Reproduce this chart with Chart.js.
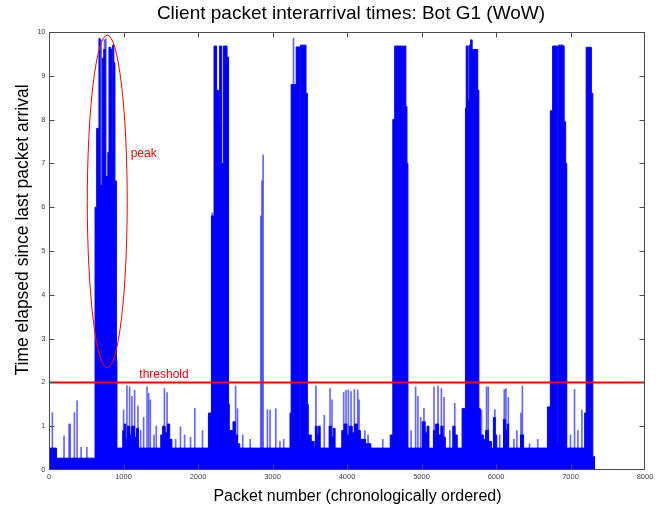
<!DOCTYPE html>
<html>
<head>
<meta charset="utf-8">
<script src="https://cdn.jsdelivr.net/npm/chart.js@4/dist/chart.umd.min.js"></script>
<style>
  html, body { margin: 0; padding: 0; background: #ffffff; }
  #wrap { width: 671px; height: 505px; }
</style>
</head>
<body>
<div id="wrap"><canvas id="c" width="671" height="505"></canvas></div>
<script>
// ---------- data ----------
const titleText = 'Client packet interarrival times: Bot G1 (WoW)';
const xAxisTitle = 'Packet number (chronologically ordered)';
const yAxisTitle = 'Time elapsed since last packet arrival';

const xTickValues = [0, 1000, 2000, 3000, 4000, 5000, 6000, 7000, 8000];
const yTickValues = [0, 1, 2, 3, 4, 5, 6, 7, 8, 9, 10];

// dense part of the trace: upper envelope, each value holds until the next packet number
const coreX = [0, 100, 618, 640, 672, 685, 715, 735, 755, 790, 805, 830, 845, 855, 870, 885, 905, 912,
  990, 1010, 1030, 1050, 1085, 1110, 1150, 1175, 1200,
  1500, 1525, 1560, 1590, 1620, 1650,
  2140, 2180, 2215, 2250, 2275, 2290, 2318, 2340, 2390, 2410, 2420, 2470, 2500, 2530, 2560,
  3235, 3250, 3318, 3362, 3374, 3450, 3468, 3480, 3520, 3560, 3575, 3600, 3620, 3640,
  3760, 3790, 3815, 3840, 3930, 3960, 4000, 4030, 4070, 4100, 4140, 4180, 4250, 4320,
  4580, 4615, 4640, 4745, 4758, 4790, 4805, 4818, 5010, 5050, 5075, 5100,
  5160, 5190, 5230, 5260, 5290, 5320, 5420, 5450, 5480, 5545, 5590,
  5600, 5625, 5640, 5660, 5680, 5755, 5770, 5790, 5830, 5860, 5900, 5940, 5965, 5990, 6010,
  6100, 6130, 6150, 6170, 6330, 6370, 6690,
  6730, 6760, 6824, 6838, 6900, 6915, 6935, 6950, 7190, 7210, 7280, 7300, 7330];
const coreY = [0.5, 0.27, 6.0, 7.8, 9.85, 6.5, 9.4, 9.6, 6.7, 7.25, 9.65, 9.6, 7.25, 9.7, 9.3, 6.6, 2.5, 0.5,
  0.9, 1.05, 0.7, 1.0, 0.8, 1.0, 0.75, 0.95, 0.5,
  0.8, 1.0, 0.85, 1.05, 0.7, 0.5,
  1.3, 5.8, 9.68, 8.67, 7.9, 9.68, 7.0, 9.68, 9.43, 1.5, 0.9, 1.1, 0.8, 0.6, 0.5,
  1.3, 8.8, 9.66, 0.7, 9.7, 8.6, 1.5, 0.8, 0.65, 0.5, 1.0, 0.8, 1.0, 0.5,
  1.0, 0.75, 0.95, 0.5, 0.9, 1.05, 0.8, 1.0, 0.85, 1.05, 0.9, 0.7, 0.6, 0.5,
  0.8, 8.0, 9.68, 0.7, 9.68, 8.3, 7.0, 0.5, 1.1, 0.85, 1.0, 0.5,
  0.9, 1.05, 0.8, 1.0, 0.75, 0.5, 1.0, 0.8, 0.5, 1.4, 8.26,
  9.68, 8.45, 9.7, 9.82, 9.6, 8.67, 1.4, 0.8, 0.7, 0.9, 0.65, 0.5, 1.2, 0.8, 0.5,
  1.15, 0.9, 1.05, 0.5, 0.8, 0.5, 1.44,
  8.2, 9.68, 0.6, 9.7, 9.68, 7.95, 7.0, 0.5, 1.3, 9.65, 8.6, 0.3, 0.3];

// isolated strands of the trace
const spikeX = [45, 202, 270, 285, 341, 377, 431, 508, 678, 700, 745, 763, 1001, 1046, 1082, 1113, 1149, 1194,
  1230, 1270, 1316, 1338, 1360, 1410, 1440, 1549, 1585, 1700, 1765, 1820, 1900, 1957, 2060, 2191,
  2505, 2530, 2600, 2700, 2842, 2858, 2874, 2932, 2968, 3044, 3100, 3150,
  3282, 3583, 3628, 3695, 3772, 3799, 3956, 3987, 4018, 4054, 4099, 4144, 4162, 4240, 4283, 4480,
  4860, 4921, 4952, 4990, 5033, 5168, 5222, 5267, 5303, 5380, 5446, 5806, 5873, 5896, 5985, 6050,
  6111, 6133, 6165, 6240, 6280, 6335, 6354, 6450, 6560, 7000, 7054, 7100, 7153];
const spikeY = [1.31, 0.78, 1.05, 1.05, 1.31, 1.58, 0.52, 0.52, 9.85, 9.82, 9.82, 9.85, 1.37, 1.92, 1.9, 1.68, 1.82, 1.46,
  0.9, 1.2, 1.9, 1.75, 1.6, 0.8, 1.0, 1.86, 1.77, 0.7, 0.99, 0.8, 0.75, 1.41, 0.9, 5.87,
  1.92, 1.4, 0.8, 0.7, 5.8, 6.6, 7.19, 1.38, 1.37, 1.4, 0.65, 0.7,
  9.86, 1.92, 1.0, 1.25, 1.86, 1.6, 1.77, 1.82, 1.83, 1.79, 1.84, 1.83, 1.6, 0.9, 0.8, 0.7,
  0.9, 1.9, 1.68, 1.2, 1.41, 1.9, 1.92, 1.86, 1.66, 0.9, 1.52, 1.37, 1.9, 1.9, 1.38, 0.8,
  1.84, 1.86, 1.66, 0.7, 0.9, 1.3, 1.92, 0.6, 0.7, 0.8, 1.84, 0.9, 1.37];

const thresholdValue = 2;

// red annotations
const ellipseCenter = [782, 6.13];
const ellipseRadii = [268, 3.8];
const noteTexts = ['peak', 'threshold'];
const noteX = [1096, 1212];
const noteY = [7.15, 2.11];

// ---------- chart ----------
const FONT = "'Liberation Sans', Arial, Helvetica, sans-serif";
const BLUE = '#0000ff';
const RED = '#ff0000';
const AXIS = '#4a4a4a';

const matlabPlugin = {
  id: 'matlabLook',
  afterDatasetsDraw(chart) {
    const ctx = chart.ctx;
    const xs = chart.scales.x, ys = chart.scales.y;
    ctx.save();
    const cx = xs.getPixelForValue(ellipseCenter[0]);
    const cy = ys.getPixelForValue(ellipseCenter[1]);
    const rx = Math.abs(xs.getPixelForValue(ellipseCenter[0] + ellipseRadii[0]) - cx);
    const ry = Math.abs(ys.getPixelForValue(ellipseCenter[1] + ellipseRadii[1]) - cy);
    ctx.strokeStyle = RED;
    ctx.lineWidth = 1;
    ctx.beginPath();
    ctx.ellipse(cx, cy, rx, ry, 0, 0, Math.PI * 2);
    ctx.stroke();
    ctx.fillStyle = RED;
    ctx.font = '12px ' + FONT;
    ctx.textAlign = 'left';
    ctx.textBaseline = 'alphabetic';
    noteTexts.forEach((t, i) => {
      ctx.fillText(t, xs.getPixelForValue(noteX[i]), ys.getPixelForValue(noteY[i]));
    });
    ctx.restore();
  },
  afterDraw(chart) {
    const ctx = chart.ctx;
    const a = chart.chartArea;
    const xs = chart.scales.x, ys = chart.scales.y;
    ctx.save();
    ctx.strokeStyle = AXIS;
    ctx.lineWidth = 1;
    const L = Math.round(a.left) + 0.5, R = Math.round(a.right) - 0.5;
    const T = Math.round(a.top) + 0.5, B = Math.round(a.bottom) - 0.5;
    const clamp = (v, lo, hi) => Math.min(Math.max(v, lo), hi);
    ctx.beginPath();
    ctx.rect(L, T, R - L, B - T);
    const tl = 5;
    xTickValues.forEach(v => {
      const p = clamp(Math.round(xs.getPixelForValue(v)) + 0.5, L, R);
      ctx.moveTo(p, B); ctx.lineTo(p, B - tl);
      ctx.moveTo(p, T); ctx.lineTo(p, T + tl);
    });
    yTickValues.forEach(v => {
      const p = clamp(Math.round(ys.getPixelForValue(v)) + 0.5, T, B);
      ctx.moveTo(L, p); ctx.lineTo(L + tl, p);
      ctx.moveTo(R, p); ctx.lineTo(R - tl, p);
    });
    ctx.stroke();
    ctx.fillStyle = '#000000';
    ctx.textAlign = 'center';
    ctx.textBaseline = 'alphabetic';
    ctx.font = '19px ' + FONT;
    ctx.fillText(titleText, 351, 18.5);
    ctx.font = '16px ' + FONT;
    ctx.fillText(xAxisTitle, 357.5, 501);
    ctx.save();
    ctx.translate(28, 230);
    ctx.rotate(-Math.PI / 2);
    ctx.font = '17.5px ' + FONT;
    ctx.fillText(yAxisTitle, 0, 0);
    ctx.restore();
    ctx.restore();
  }
};

new Chart(document.getElementById('c'), {
  type: 'line',
  data: {
    datasets: [
      {
        type: 'line',
        label: 'threshold',
        data: [{ x: xTickValues[0], y: thresholdValue }, { x: xTickValues[xTickValues.length - 1], y: thresholdValue }],
        borderColor: RED,
        borderWidth: 2,
        pointRadius: 0,
        fill: false,
        order: 0
      },
      {
        type: 'bar',
        label: 'strands',
        data: spikeX.map((x, i) => ({ x: x, y: spikeY[i] })),
        backgroundColor: 'rgba(0,0,255,0.6)',
        borderWidth: 0,
        barThickness: 1,
        grouped: false,
        order: 1
      },
      {
        type: 'line',
        label: 'interarrival',
        data: coreX.map((x, i) => ({ x: x, y: coreY[i] })),
        stepped: 'before',
        borderColor: BLUE,
        backgroundColor: BLUE,
        borderWidth: 1,
        pointRadius: 0,
        fill: 'origin',
        order: 2
      }
    ]
  },
  options: {
    responsive: false,
    animation: false,
    events: [],
    layout: { padding: { top: 32, right: 26, left: 0, bottom: 0 } },
    plugins: { legend: { display: false }, tooltip: { enabled: false }, title: { display: false } },
    scales: {
      x: {
        type: 'linear',
        min: 0, max: 8000,
        offset: false,
        grid: { display: false, drawTicks: false },
        border: { display: false },
        afterBuildTicks: s => { s.ticks = xTickValues.map(v => ({ value: v })); },
        afterFit: s => { s.height = 35; },
        ticks: {
          autoSkip: false, maxRotation: 0,
          padding: 2,
          color: '#404040',
          font: { family: FONT, size: 7.5 },
          callback: v => String(v)
        }
      },
      y: {
        type: 'linear',
        min: 0, max: 10,
        grid: { display: false, drawTicks: false },
        border: { display: false },
        afterBuildTicks: s => { s.ticks = yTickValues.map(v => ({ value: v })); },
        afterFit: s => { s.width = 49; },
        ticks: {
          autoSkip: false,
          padding: 3.5,
          color: '#404040',
          font: { family: FONT, size: 7.5 },
          callback: v => String(v)
        }
      }
    }
  },
  plugins: [matlabPlugin]
});
</script>
</body>
</html>
